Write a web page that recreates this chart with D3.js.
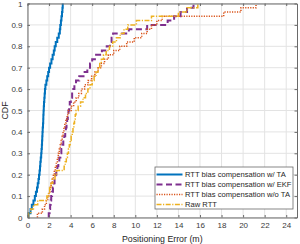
<!DOCTYPE html>
<html>
<head>
<meta charset="utf-8">
<script src="https://cdn.jsdelivr.net/npm/d3@7"></script>
<style>
  html, body { margin: 0; padding: 0; background: #fff; }
  svg { display: block; font-family: "Liberation Sans", Arial, sans-serif; }
  .grid line { stroke: #e3e3e3; stroke-width: 1; }
  .axis text { fill: #3a3a3a; font-size: 8px; }
  .axis line, .axis path { stroke: #6a6a6a; }
</style>
</head>
<body>
<div id="chart"></div>
<script>
const svgWidth = 300;
const svgHeight = 244;
const margin = { top: 3.5, right: 3, bottom: 26.5, left: 27.5 };

// sorted positioning errors (m) per method
const errTA = [0.10, 0.28, 0.40, 0.55, 0.68, 0.78, 0.88, 0.95, 1.02, 1.07,
  1.12, 1.16, 1.19, 1.23, 1.27, 1.30, 1.33, 1.35, 1.37, 1.39,
  1.41, 1.44, 1.46, 1.47, 1.49, 1.51, 1.53, 1.56, 1.59, 1.62,
  1.66, 1.75, 1.83, 1.92, 2.00, 2.10, 2.22, 2.33, 2.44, 2.52,
  2.62, 2.76, 2.90, 3.00, 3.04, 3.10, 3.15, 3.20, 3.24, 3.27];
const errEKF = [1.97, 2.05, 2.10, 2.15, 2.20, 2.28, 2.36, 2.44, 2.51, 2.58,
  2.67, 2.77, 2.86, 2.95, 3.05, 3.14, 3.23, 3.32, 3.41, 3.50,
  3.56, 3.62, 3.68, 3.74, 3.80, 3.86, 3.92, 4.02, 4.14, 4.25,
  4.35, 4.50, 4.80, 5.30, 5.55, 5.80, 6.00, 6.25, 6.90, 7.35,
  7.65, 7.80, 7.94, 9.40, 11.10, 13.00, 13.60, 14.20, 14.80, 15.40];
const errNoTA = [0.92, 1.38, 1.58, 1.75, 1.88, 1.98, 2.09, 2.19, 2.30, 2.40,
  2.49, 2.58, 2.67, 2.77, 2.86, 2.95, 3.04, 3.13, 3.22, 3.30,
  3.38, 3.46, 3.56, 3.68, 3.80, 4.05, 4.28, 4.52, 4.76, 5.00,
  5.30, 5.62, 5.95, 6.25, 6.55, 6.85, 7.15, 7.50, 8.00, 8.56,
  9.20, 9.90, 10.60, 11.10, 11.50, 12.00, 12.50, 18.20, 19.80, 21.20];
const errRaw = [0.10, 0.30, 0.55, 0.95, 1.80, 1.95, 2.05, 2.18, 2.35, 2.55,
  2.70, 3.40, 3.50, 3.60, 3.70, 3.80, 3.88, 3.96, 4.05, 4.15,
  4.22, 4.30, 4.36, 4.43, 4.50, 4.70, 4.92, 5.15, 5.38, 5.60,
  5.80, 6.00, 6.18, 6.36, 6.55, 6.70, 6.85, 7.05, 7.30, 7.60,
  7.90, 8.25, 8.60, 8.95, 9.30, 10.10, 11.50, 14.00, 14.80, 15.80];

const seriesNames = [
  "RTT bias compensation w/ TA",
  "RTT bias compensation w/ EKF",
  "RTT bias compensation w/o TA",
  "Raw RTT",
];
const xTicks = [0, 2, 4, 6, 8, 10, 12, 14, 16, 18, 20, 22, 24];
const yTicks = [0, 0.1, 0.2, 0.3, 0.4, 0.5, 0.6, 0.7, 0.8, 0.9, 1];

const series = [
  { name: seriesNames[0], values: errTA, color: "#0072BD", width: 2, dash: null },
  { name: seriesNames[1], values: errEKF, color: "#7E2F8E", width: 2, dash: "6,3.5" },
  { name: seriesNames[2], values: errNoTA, color: "#D95319", width: 1.5, dash: "1.2,1.3" },
  { name: seriesNames[3], values: errRaw, color: "#EDB120", width: 1.5, dash: "5,1.5,1.2,1.5" },
];

const plotWidth = svgWidth - margin.left - margin.right;
const plotHeight = svgHeight - margin.top - margin.bottom;

const svg = d3.select("#chart").append("svg")
  .attr("width", svgWidth)
  .attr("height", svgHeight);

const plot = svg.append("g").attr("transform", `translate(${margin.left},${margin.top})`);

const x = d3.scaleLinear().domain([0, 25]).range([0, plotWidth]);
const y = d3.scaleLinear().domain([0, 1]).range([plotHeight, 0]);

// grid
plot.append("g").attr("class", "grid")
  .selectAll("line.gx").data(xTicks).join("line")
  .attr("x1", (d) => x(d)).attr("x2", (d) => x(d))
  .attr("y1", 0).attr("y2", plotHeight);
plot.append("g").attr("class", "grid")
  .selectAll("line.gy").data(yTicks).join("line")
  .attr("x1", 0).attr("x2", plotWidth)
  .attr("y1", (d) => y(d)).attr("y2", (d) => y(d));

// empirical CDF curves
const line = d3.line()
  .x((d) => x(d[0]))
  .y((d) => y(d[1]))
  .curve(d3.curveStepAfter);

series.forEach((s) => {
  const n = s.values.length;
  const pts = [[s.values[0], 0]].concat(s.values.map((v, i) => [v, (i + 1) / n]));
  plot.append("path")
    .attr("d", line(pts))
    .attr("fill", "none")
    .attr("stroke", s.color)
    .attr("stroke-width", s.width)
    .attr("stroke-dasharray", s.dash);
});

// axes with inward ticks
const xAxis = d3.axisBottom(x).tickValues(xTicks).tickSizeInner(-2.5).tickSizeOuter(0).tickPadding(5);
const yAxis = d3.axisLeft(y).tickValues(yTicks).tickSizeInner(-2.5).tickSizeOuter(0).tickPadding(5)
  .tickFormat((d) => d3.format("")(d));

plot.append("g").attr("class", "axis").attr("transform", `translate(0,${plotHeight})`).call(xAxis);
plot.append("g").attr("class", "axis").call(yAxis);
plot.append("g").attr("class", "axis").attr("transform", `translate(0,0)`)
  .call(d3.axisTop(x).tickValues(xTicks).tickSizeInner(-2.5).tickSizeOuter(0).tickFormat(""));
plot.append("g").attr("class", "axis").attr("transform", `translate(${plotWidth},0)`)
  .call(d3.axisRight(y).tickValues(yTicks).tickSizeInner(-2.5).tickSizeOuter(0).tickFormat(""));

// axis labels
svg.append("text")
  .attr("x", margin.left + plotWidth / 2)
  .attr("y", 242)
  .attr("text-anchor", "middle")
  .attr("font-size", "8.8px")
  .attr("fill", "#262626")
  .text("Positioning Error (m)");

svg.append("text")
  .attr("transform", `translate(8,${margin.top + plotHeight / 2}) rotate(-90)`)
  .attr("text-anchor", "middle")
  .attr("font-size", "8.8px")
  .attr("fill", "#262626")
  .text("CDF");

// legend
const legend = svg.append("g").attr("transform", "translate(155,167)");
legend.append("rect")
  .attr("width", 138).attr("height", 42)
  .attr("fill", "#fff").attr("stroke", "#6a6a6a").attr("stroke-width", 0.8);

series.forEach((s, i) => {
  const row = legend.append("g").attr("transform", `translate(0,${7.5 + i * 10})`);
  row.append("line")
    .attr("x1", 1.5).attr("x2", 27.5).attr("y1", 0).attr("y2", 0)
    .attr("stroke", s.color)
    .attr("stroke-width", s.width)
    .attr("stroke-dasharray", s.dash);
  row.append("text")
    .attr("x", 30).attr("y", 2.8)
    .attr("font-size", "7.6px")
    .attr("fill", "#262626")
    .text(s.name);
});
</script>
</body>
</html>
